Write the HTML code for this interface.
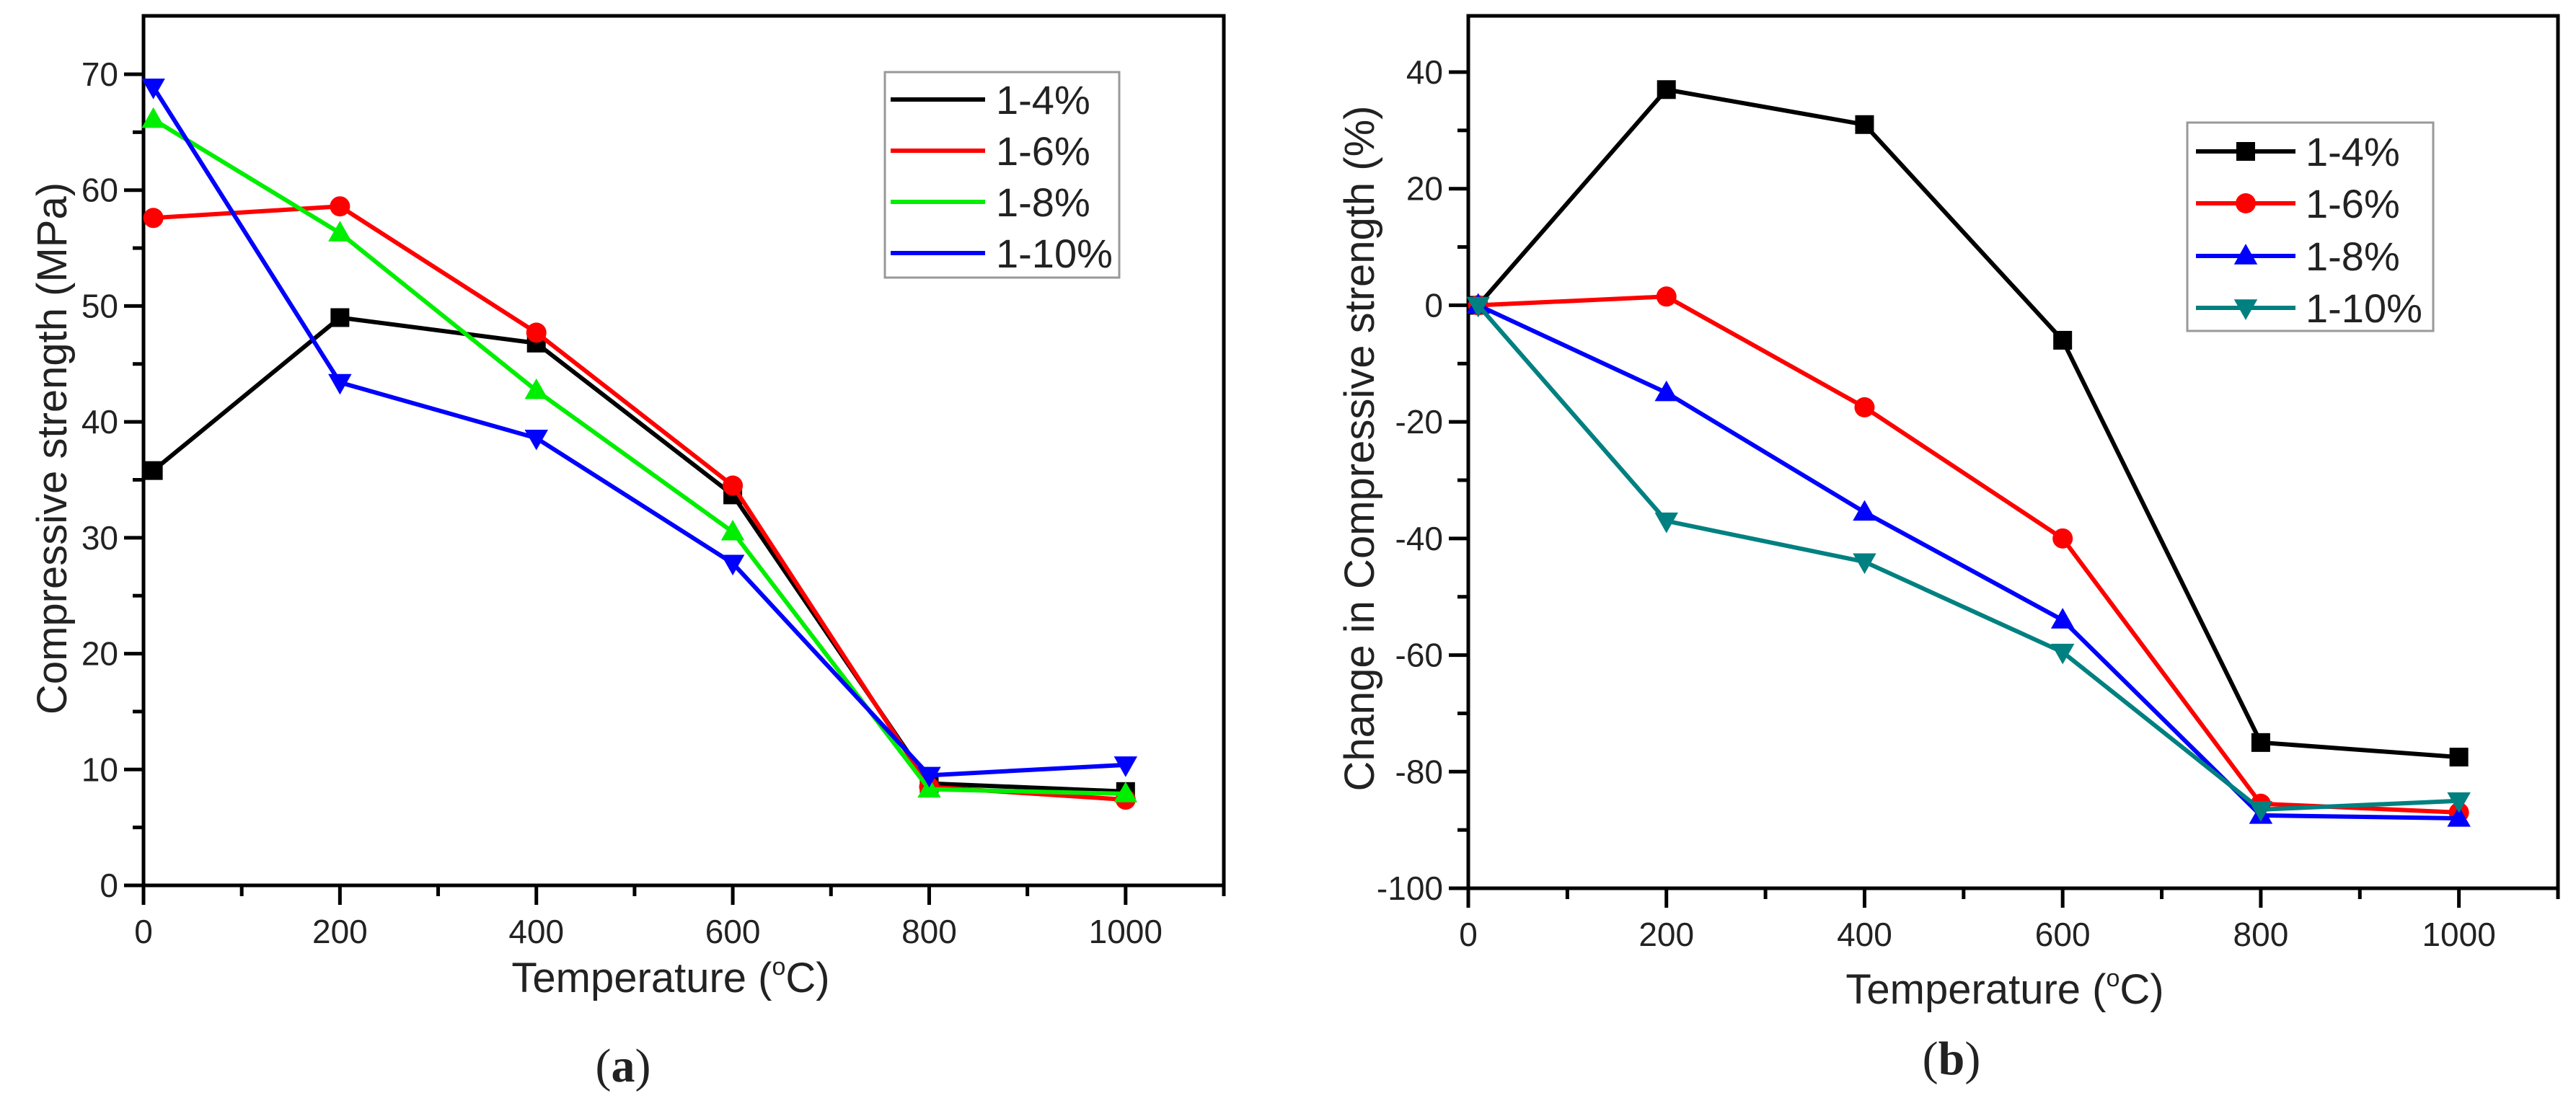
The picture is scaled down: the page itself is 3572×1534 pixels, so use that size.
<!DOCTYPE html>
<html><head><meta charset="utf-8"><style>
html,body{margin:0;padding:0;background:#fff;}
svg{display:block;}
text{font-family:"Liberation Sans",sans-serif;fill:#222;}
</style></head>
<body>
<svg id="fig" width="3572" height="1534" viewBox="0 0 3572 1534" xmlns="http://www.w3.org/2000/svg"></svg>
<script>
const temps = [10, 200, 400, 600, 800, 1000];
const seriesNames = ["1-4%", "1-6%", "1-8%", "1-10%"];
const strength14 = [35.8, 49.0, 46.8, 33.7, 8.8, 8.1];
const strength16 = [57.6, 58.6, 47.7, 34.5, 8.5, 7.4];
const strength18 = [66.1, 56.3, 42.7, 30.5, 8.3, 7.9];
const strength110 = [68.9, 43.4, 38.6, 27.8, 9.5, 10.4];
const change14 = [0, 37, 31, -6, -75, -77.5];
const change16 = [0, 1.5, -17.5, -40, -85.5, -87];
const change18 = [0, -15, -35.5, -54, -87.5, -88];
const change110 = [0, -37, -44, -59.5, -86.5, -85];
const xTicks = [0, 200, 400, 600, 800, 1000];
const yTicksA = [0, 10, 20, 30, 40, 50, 60, 70];
const yTicksB = [-100, -80, -60, -40, -20, 0, 20, 40];

const NS = "http://www.w3.org/2000/svg";
const svg = document.getElementById("fig");
function mk(tag, attrs, parent) {
  const e = document.createElementNS(NS, tag);
  for (const k in attrs) e.setAttribute(k, attrs[k]);
  (parent || svg).appendChild(e);
  return e;
}
function marker(g, type, x, y, color, s) {
  let e;
  if (type === "square") e = mk("rect", {x: x - s, y: y - s, width: 2 * s, height: 2 * s, fill: color}, g);
  else if (type === "circle") e = mk("circle", {cx: x, cy: y, r: s + 1, fill: color}, g);
  else if (type === "up") e = mk("polygon", {points: `${x},${y - s * 1.3} ${x - s * 1.25},${y + s * 0.9} ${x + s * 1.25},${y + s * 0.9}`, fill: color}, g);
  else e = mk("polygon", {points: `${x},${y + s * 1.3} ${x - s * 1.25},${y - s * 0.9} ${x + s * 1.25},${y - s * 0.9}`, fill: color}, g);
  return e;
}

function drawChart(cfg) {
  const g = mk("g", {});
  
  
  const X = v => cfg.left + (v / 1100) * (cfg.right - cfg.left);
  const Y = v => cfg.bottom - (v - cfg.ymin) / (cfg.ymax - cfg.ymin) * (cfg.bottom - cfg.ymaxPx);
  const frame = mk("rect", {x: cfg.left, y: cfg.top, width: cfg.right - cfg.left, height: cfg.bottom - cfg.top, fill: "none", stroke: "#000", "stroke-width": 5}, g);
  
  
  for (let v = 0; v <= 1100; v += 100) {
    const major = v % 200 === 0;
    const t = mk("line", {x1: X(v), x2: X(v), y1: cfg.bottom, y2: cfg.bottom + (major ? 27 : 15), stroke: "#000", "stroke-width": 5}, g);
    
    
  }
  xTicks.forEach(v => {
    const t = mk("text", {x: X(v), y: cfg.bottom + 80, "font-size": 46, "text-anchor": "middle"}, g);
    t.textContent = v;
    
    
  });
  for (let v = cfg.ymin; v <= cfg.ymax + 0.01; v += cfg.minor) {
    const major = Math.abs((v - cfg.ymin) % cfg.major) < 0.01;
    const t = mk("line", {x1: cfg.left, x2: cfg.left - (major ? 27 : 15), y1: Y(v), y2: Y(v), stroke: "#000", "stroke-width": 5}, g);
    
    
  }
  cfg.yTicks.forEach(v => {
    const t = mk("text", {x: cfg.left - 35, y: Y(v) + 16, "font-size": 46, "text-anchor": "end"}, g);
    t.textContent = v;
    
    
  });
  const xt = mk("text", {x: cfg.xTitleX, y: cfg.xTitleY, "font-size": 58, "text-anchor": "middle"}, g);
  xt.innerHTML = 'Temperature (<tspan font-size="34" dy="-24">o</tspan><tspan dy="24">C)</tspan>';
  
  
  const yt = mk("text", {x: 0, y: 0, "font-size": 58, "text-anchor": "middle", transform: `translate(${cfg.yTitleX},${cfg.yTitleY}) rotate(-90)`}, g);
  yt.textContent = cfg.yTitle;
  
  
  cfg.series.forEach((s, i) => {
    const sg = mk("g", {}, g);
    
    
    const pts = s.vals.map((v, j) => X(temps[j]) + "," + Y(v)).join(" ");
    const pl = mk("polyline", {points: pts, fill: "none", stroke: s.color, "stroke-width": 6, "stroke-linejoin": "round"}, sg);
    
    
    s.vals.forEach((v, j) => {
      const m = marker(sg, s.marker, X(temps[j]), Y(v), s.color, 13);
      
      
    });
  });
  const L = cfg.legend;
  const lg = mk("g", {}, g);
  
  
  mk("rect", {x: L.x, y: L.y, width: L.w, height: L.h, fill: "#fff", stroke: "#999", "stroke-width": 3}, lg);
  cfg.series.forEach((s, i) => {
    const ry = L.rows[i];
    const eg = mk("g", {}, lg);
    
    
    mk("line", {x1: L.lx1, x2: L.lx2, y1: ry, y2: ry, stroke: s.color, "stroke-width": 6}, eg);
    if (L.markers) marker(eg, s.marker, (L.lx1 + L.lx2) / 2, ry, s.color, 13);
    const t = mk("text", {x: L.tx, y: ry + 20, "font-size": 56}, eg);
    t.textContent = seriesNames[i];
  });
}

drawChart({
  name: "chart-a", left: 199, right: 1697, top: 22, bottom: 1228,
  ymin: 0, ymax: 70, ymaxPx: 103, major: 10, minor: 5, yTicks: yTicksA,
  yTitle: "Compressive strength (MPa)", yTitleX: 92, yTitleY: 622,
  xTitleX: 930, xTitleY: 1376,
  series: [
    {vals: strength14, color: "#000000", marker: "square"},
    {vals: strength16, color: "#ff0000", marker: "circle"},
    {vals: strength18, color: "#00ee00", marker: "up"},
    {vals: strength110, color: "#0000ff", marker: "down"}
  ],
  legend: {x: 1227, y: 100, w: 325, h: 285, rows: [138, 209, 280, 351], lx1: 1235, lx2: 1366, tx: 1381, markers: false}
});
drawChart({
  name: "chart-b", left: 2036, right: 3547, top: 22, bottom: 1232,
  ymin: -100, ymax: 40, ymaxPx: 100, major: 20, minor: 10, yTicks: yTicksB,
  yTitle: "Change in Compressive strength (%)", yTitleX: 1905, yTitleY: 622,
  xTitleX: 2780, xTitleY: 1392,
  series: [
    {vals: change14, color: "#000000", marker: "square"},
    {vals: change16, color: "#ff0000", marker: "circle"},
    {vals: change18, color: "#0000ff", marker: "up"},
    {vals: change110, color: "#008080", marker: "down"}
  ],
  legend: {x: 3033, y: 170, w: 341, h: 289, rows: [210, 282, 355, 427], lx1: 3045, lx2: 3183, tx: 3197, markers: true}
});

const ca = mk("text", {x: 864, y: 1500, "font-size": 66, "text-anchor": "middle", style: "font-family:'Liberation Serif',serif"});
ca.innerHTML = '(<tspan font-weight="bold">a</tspan>)';


const cb = mk("text", {x: 2706, y: 1490, "font-size": 66, "text-anchor": "middle", style: "font-family:'Liberation Serif',serif"});
cb.innerHTML = '(<tspan font-weight="bold">b</tspan>)';


</script>
</body></html>
